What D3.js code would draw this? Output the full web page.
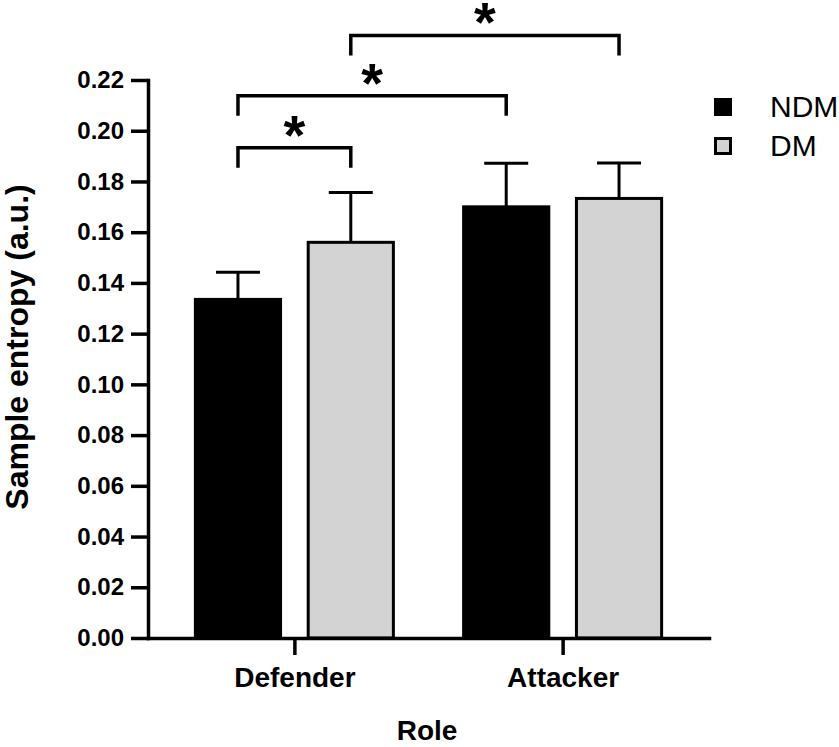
<!DOCTYPE html>
<html>
<head>
<meta charset="utf-8">
<script src="https://cdn.jsdelivr.net/npm/d3@7"></script>
<style>
  body { margin: 0; background: #fff; }
  svg { display: block; font-family: "Liberation Sans", Arial, Helvetica, sans-serif; }
  .axis path, .axis line { stroke: #000; stroke-width: 3.5; }
  .axis text { fill: #000; font-weight: bold; }
</style>
</head>
<body>
<div id="chart"></div>
<script>
// values
const roles = ["Defender", "Attacker"];
const groups = ["NDM", "DM"];
const meanNDM = [0.1335, 0.1700];
const meanDM = [0.1560, 0.1733];
const sdNDM = [0.0107, 0.0172];
const sdDM = [0.0196, 0.0140];
const yTickValues = [0.00, 0.02, 0.04, 0.06, 0.08, 0.10, 0.12, 0.14, 0.16, 0.18, 0.20, 0.22];
const groupColors = ["#000000", "#d3d3d3"];

// significance brackets: which bars are compared, bracket height (a.u.), label
const comparisons = [
  {from: ["Defender", "NDM"], to: ["Defender", "DM"], level: 0.1933, label: "*"},
  {from: ["Defender", "NDM"], to: ["Attacker", "NDM"], level: 0.2138, label: "*"},
  {from: ["Defender", "DM"], to: ["Attacker", "DM"], level: 0.2375, label: "*"}
];

const width = 839, height = 747;
const plotLeft = 148, plotRight = 709, plotTop = 80, plotBottom = 638;

const bars = [];
roles.forEach((r, i) => {
  bars.push({role: r, group: "NDM", mean: meanNDM[i], sd: sdNDM[i]});
  bars.push({role: r, group: "DM", mean: meanDM[i], sd: sdDM[i]});
});

const svg = d3.select("#chart").append("svg")
  .attr("width", width)
  .attr("height", height);

const x0 = d3.scalePoint().domain(roles).range([plotLeft, plotRight]).padding(0.5457);
const x1 = d3.scaleBand().domain(groups).range([-99, 99]).paddingInner(0.245);
const y = d3.scaleLinear().domain([0, 0.22]).range([plotBottom, plotTop]);
const color = d3.scaleOrdinal().domain(groups).range(groupColors);

const barCenter = (role, group) => x0(role) + x1(group) + x1.bandwidth() / 2;

// bars
svg.append("g").selectAll("rect")
  .data(bars)
  .join("rect")
  .attr("x", d => x0(d.role) + x1(d.group))
  .attr("y", d => y(d.mean))
  .attr("width", x1.bandwidth())
  .attr("height", d => y(0) - y(d.mean))
  .attr("fill", d => color(d.group))
  .attr("stroke", "#000")
  .attr("stroke-width", 3);

// error bars (upper only)
const err = svg.append("g").selectAll("g")
  .data(bars)
  .join("g")
  .attr("stroke", "#000")
  .attr("stroke-width", 3);

err.append("line")
  .attr("x1", d => barCenter(d.role, d.group))
  .attr("x2", d => barCenter(d.role, d.group))
  .attr("y1", d => y(d.mean))
  .attr("y2", d => y(d.mean + d.sd));

err.append("line")
  .attr("x1", d => barCenter(d.role, d.group) - 22)
  .attr("x2", d => barCenter(d.role, d.group) + 22)
  .attr("y1", d => y(d.mean + d.sd))
  .attr("y2", d => y(d.mean + d.sd));

// axes
svg.append("g")
  .attr("class", "axis")
  .attr("transform", `translate(${plotLeft},0)`)
  .call(d3.axisLeft(y).tickValues(yTickValues).tickFormat(d3.format(".2f"))
    .tickSize(17).tickSizeOuter(0).tickPadding(7))
  .selectAll("text")
  .style("font-size", "24px");

svg.append("g")
  .attr("class", "axis")
  .attr("transform", `translate(0,${plotBottom})`)
  .call(d3.axisBottom(x0).tickSize(17).tickSizeOuter(0).tickPadding(12))
  .selectAll("text")
  .style("font-size", "28px");

svg.selectAll(".axis path").attr("stroke-linecap", "square");

// axis titles
svg.append("text")
  .attr("transform", `translate(28,${347}) rotate(-90)`)
  .attr("text-anchor", "middle")
  .style("font-size", "32px")
  .style("font-weight", "bold")
  .text("Sample entropy (a.u.)");

svg.append("text")
  .attr("x", 427)
  .attr("y", 740)
  .attr("text-anchor", "middle")
  .style("font-size", "28px")
  .style("font-weight", "bold")
  .text("Role");

// significance brackets
const br = svg.append("g").selectAll("g")
  .data(comparisons)
  .join("g");

br.append("path")
  .attr("fill", "none")
  .attr("stroke", "#000")
  .attr("stroke-width", 3.5)
  .attr("d", d => {
    const xa = barCenter(d.from[0], d.from[1]);
    const xb = barCenter(d.to[0], d.to[1]);
    const yl = y(d.level);
    return `M${xa},${yl + 20}V${yl}H${xb}V${yl + 20}`;
  });

br.append("text")
  .attr("x", d => (barCenter(d.from[0], d.from[1]) + barCenter(d.to[0], d.to[1])) / 2)
  .attr("y", d => y(d.level) - 25)
  .attr("dy", "0.55em")
  .attr("text-anchor", "middle")
  .style("font-size", "56px")
  .style("font-weight", "bold")
  .text(d => d.label);

// legend
const legend = svg.append("g")
  .attr("transform", "translate(714,98)")
  .selectAll("g")
  .data(groups)
  .join("g")
  .attr("transform", (d, i) => `translate(0,${i * 39})`);

legend.append("rect")
  .attr("x", 1.5)
  .attr("y", 1.5)
  .attr("width", 15)
  .attr("height", 15)
  .attr("fill", d => color(d))
  .attr("stroke", "#000")
  .attr("stroke-width", 3);

legend.append("text")
  .attr("x", 56)
  .attr("y", 19)
  .style("font-size", "30px")
  .text(d => d);
</script>
</body>
</html>
